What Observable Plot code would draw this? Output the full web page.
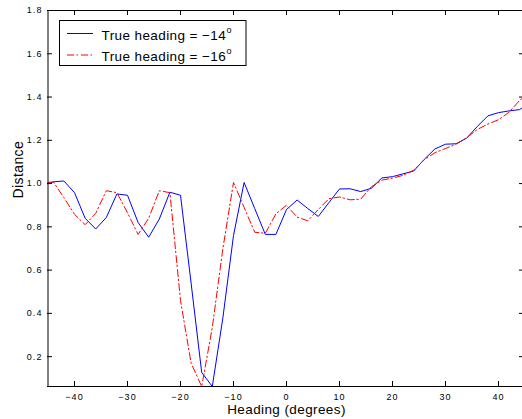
<!DOCTYPE html>
<html><head><meta charset="utf-8">
<script src="https://cdn.jsdelivr.net/npm/d3@7"></script>
<script src="https://cdn.jsdelivr.net/npm/@observablehq/plot@0.6"></script>
<style>
body{margin:0;background:#fff;}
#wrap{position:relative;width:522px;height:419px;overflow:hidden;font-family:"Liberation Sans",Arial,Helvetica,sans-serif;}
#wrap svg{display:block;}
#legend{position:absolute;left:0;top:0;}
g[aria-label$="tick label"] text{letter-spacing:1.1px;}
.lbl text{letter-spacing:0.4px;}
</style></head><body><div id="wrap"></div>
<script>
const headings = [-45,-44,-42,-40,-38,-36,-34,-32,-30,-28,-26,-24,-22,-20,-18,-16,-14,-12,-10,-8,-6,-4,-2,0,2,4,6,8,10,12,14,16,18,20,22,24,26,28,30,32,34,36,38,40,42,44,45];
const dist14 = [1.0,1.008,1.012,0.958,0.84,0.79,0.843,0.952,0.946,0.82,0.752,0.836,0.96,0.946,0.54,0.127,0.062,0.38,0.76,1.005,0.885,0.765,0.765,0.88,0.924,0.885,0.848,0.912,0.975,0.976,0.963,0.978,1.026,1.032,1.045,1.058,1.112,1.16,1.182,1.184,1.21,1.264,1.313,1.328,1.336,1.342,1.36];
const dist16 = [1.005,1.008,0.935,0.858,0.81,0.862,0.967,0.958,0.865,0.765,0.84,0.967,0.958,0.46,0.17,0.062,0.335,0.70,1.005,0.89,0.775,0.77,0.86,0.9,0.845,0.828,0.88,0.93,0.938,0.925,0.928,0.985,1.016,1.025,1.038,1.062,1.11,1.143,1.162,1.182,1.212,1.25,1.275,1.295,1.33,1.385,1.405];
const seriesNames = ["True heading = \u221214", "True heading = \u221216"];
const seriesColors = ["#0000ff", "#ff0000"];
const xTicks = [-40,-30,-20,-10,0,10,20,30,40];
const yTicks = [0.2,0.4,0.6,0.8,1,1.2,1.4,1.6,1.8];
const xDomain = [-45,45];
const yDomain = [0.062,1.8];
const xLabel = "Heading (degrees)";
const yLabel = "Distance";

const W=522, H=419, mL=47, mR=0, mT=10, mB=33;
const fw = W-mL-mR, fh = H-mT-mB, tk = 5;
const dash = "7,2.5,1.5,3";
const rows = headings.map((h,i)=>({h, a: dist14[i], b: dist16[i]}));

const chart = Plot.plot({
  width: W, height: H, marginLeft: mL, marginRight: mR, marginTop: mT, marginBottom: mB,
  style: {fontFamily: '"Liberation Sans",Arial,Helvetica,sans-serif', background: "white", color: "black"},
  x: {domain: xDomain, range: [47.5, 524.5]},
  y: {domain: yDomain},
  marks: [
    Plot.line(rows, {x: "h", y: "a", stroke: seriesColors[0], strokeWidth: 1}),
    Plot.line(rows, {x: "h", y: "b", stroke: seriesColors[1], strokeWidth: 1, strokeDasharray: dash}),
    Plot.ruleX([xDomain[0]], {stroke: "black"}),
    Plot.ruleY([yDomain[0], yDomain[1]], {stroke: "black"}),
    Plot.ruleX(xTicks, {x: d => d, insetTop: fh - tk, stroke: "black"}),
    Plot.ruleX(xTicks, {x: d => d, insetBottom: fh - tk, stroke: "black"}),
    Plot.ruleY(yTicks, {y: d => d, insetRight: fw - tk, stroke: "black"}),
    Plot.ruleY(yTicks, {y: d => d, insetLeft: fw - 3, stroke: "black"}),
    Plot.axisX({ticks: xTicks, tickSize: 0, tickPadding: 7, fontSize: 9, label: null}),
    Plot.axisY({ticks: yTicks, tickSize: 0, tickPadding: 5, fontSize: 9, label: null}),
    Plot.text([xLabel], {frameAnchor: "bottom", dy: 27.5, dx: 1.5, fontSize: 13.5, className: "lbl"}),
    Plot.text([yLabel], {frameAnchor: "left", rotate: -90, dx: -29, fontSize: 14, className: "lbl"})
  ]
});
const wrap = document.getElementById("wrap");
wrap.appendChild(chart);

// legend overlay
const lg = d3.select(wrap).append("svg").attr("id","legend").attr("width", W).attr("height", H)
  .style("font-family",'"Liberation Sans",Arial,Helvetica,sans-serif');
lg.append("rect").attr("x",59.5).attr("y",20.5).attr("width",186.5).attr("height",45)
  .attr("fill","white").attr("stroke","black");
seriesNames.forEach((name,i)=>{
  const ly = 33.5 + i*21.5;
  lg.append("line").attr("x1",67).attr("x2",93).attr("y1",ly).attr("y2",ly)
    .attr("stroke",seriesColors[i]).attr("stroke-width",1)
    .attr("stroke-dasharray", i===1 ? dash : null);
  const t = lg.append("text").attr("x",101.5).attr("y",ly+6).attr("font-size",13.5)
    .style("letter-spacing","0.4px").text(name);
  t.append("tspan").attr("dx",0.5).attr("dy",-7).attr("font-size",9).text("o");
});
</script></body></html>
